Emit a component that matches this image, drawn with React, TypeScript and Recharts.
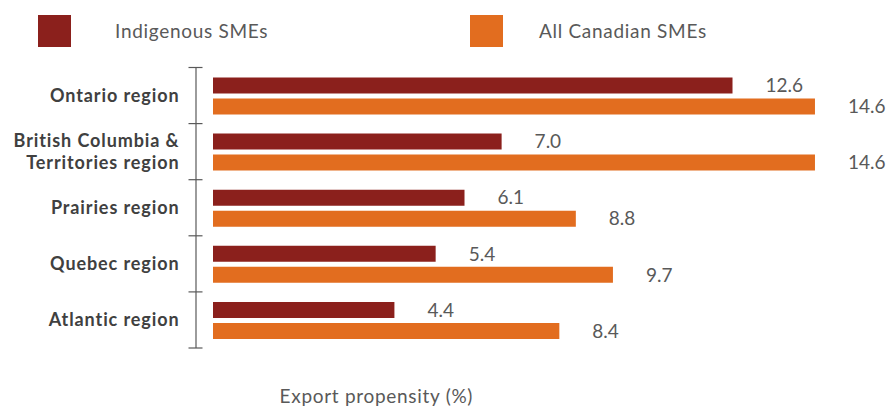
import {
    BarChart,
    Bar,
    XAxis,
    YAxis,
    Legend,
    LabelList,
} from "recharts";

const regions = [
    "Ontario region",
    "British Columbia &\nTerritories region",
    "Prairies region",
    "Quebec region",
    "Atlantic region",
];
const indigenous = [12.6, 7.0, 6.1, 5.4, 4.4];
const allCanadian = [14.6, 14.6, 8.8, 9.7, 8.4];
const seriesNames = ["Indigenous SMEs", "All Canadian SMEs"];

const RED = "#8B201C";
const ORANGE = "#E26D1F";
const GREY = "#595959";
const FONT = "Lato, 'Noto Sans', sans-serif";

const data = regions.map((region, i) => ({
    region,
    indigenous: indigenous[i],
    allCanadian: allCanadian[i],
}));

// legend squares and text sit at fixed spots like the original
const legendSpots = [
    { box: 38, text: 115 },
    { box: 470, text: 539 },
];

function TopLegend({ payload }: any) {
    // keep series order, recharts sorts the payload by name
    const items = [...(payload || [])].sort(
        (a: any, b: any) => seriesNames.indexOf(a.value) - seriesNames.indexOf(b.value)
    );
    return (
        <svg width={886} height={60}>
            {items.map((entry: any, i: number) => (
                <g key={entry.value}>
                    <rect x={legendSpots[i].box} y={15} width={33} height={32} fill={entry.color} />
                    <text
                        x={legendSpots[i].text}
                        y={37.5}
                        fill={GREY}
                        fontSize={19}
                        letterSpacing={0.7}
                        fontFamily={FONT}
                    >
                        {entry.value}
                    </text>
                </g>
            ))}
        </svg>
    );
}

// category label on the left, with tick marks on the band edges
function RegionTick(props: any) {
    const { x, y, payload, index, visibleTicksCount } = props;
    const half = payload && payload.offset ? payload.offset : 28.1;
    const lines = String(payload.value).split("\n");
    const lineHeight = 22;
    return (
        <g>
            <line x1={x - 7.5} x2={x + 6.5} y1={y - half} y2={y - half} stroke={GREY} strokeWidth={1.2} />
            {index === visibleTicksCount - 1 && (
                <line x1={x - 7.5} x2={x + 6.5} y1={y + half} y2={y + half} stroke={GREY} strokeWidth={1.2} />
            )}
            <text
                x={x - 16.5}
                y={y}
                textAnchor="end"
                fill="#404040"
                fontSize={18}
                fontWeight="bold"
                letterSpacing={0.9}
                fontFamily={FONT}
            >
                {lines.map((line, i) => (
                    <tspan key={i} x={x - 16.5} y={y + (i - (lines.length - 1) / 2) * lineHeight + 6.5}>
                        {line}
                    </tspan>
                ))}
            </text>
        </g>
    );
}

export default function App() {
    return (
        <div style={{ position: "absolute", left: 0, top: 0, width: 886, height: 408, background: "#fff" }}>
            <BarChart
                width={886}
                height={408}
                data={data}
                layout="vertical"
                margin={{ top: 7.5, right: 13.3, bottom: 0, left: 0 }}
                barSize={16}
                barGap={5}
            >
                <Legend
                    verticalAlign="top"
                    content={<TopLegend />}
                    wrapperStyle={{ top: 0, left: 0, width: 886, height: 60 }}
                />
                <XAxis
                    type="number"
                    domain={[0, 16]}
                    padding={{ left: 17, right: 0 }}
                    axisLine={false}
                    tickLine={false}
                    tick={false}
                    height={60}
                    label={{
                        value: "Export propensity (%)",
                        position: "insideBottom",
                        dx: -158,
                        fill: GREY,
                        fontSize: 19,
                        letterSpacing: 0.7,
                        fontFamily: FONT,
                    }}
                />
                <YAxis
                    type="category"
                    dataKey="region"
                    width={196}
                    interval={0}
                    axisLine={{ stroke: GREY, strokeWidth: 1.2 }}
                    tickLine={false}
                    tickSize={0}
                    tickMargin={0}
                    tick={<RegionTick />}
                />
                <Bar dataKey="indigenous" name={seriesNames[0]} fill={RED} isAnimationActive={false}>
                    <LabelList
                        dataKey="indigenous"
                        position="right"
                        offset={33}
                        formatter={(v: any) => Number(v).toFixed(1)}
                        fill={GREY}
                        fontSize={19}
                        fontFamily={FONT}
                    />
                </Bar>
                <Bar dataKey="allCanadian" name={seriesNames[1]} fill={ORANGE} isAnimationActive={false}>
                    <LabelList
                        dataKey="allCanadian"
                        position="right"
                        offset={33}
                        formatter={(v: any) => Number(v).toFixed(1)}
                        fill={GREY}
                        fontSize={19}
                        fontFamily={FONT}
                    />
                </Bar>
            </BarChart>
        </div>
    );
}
